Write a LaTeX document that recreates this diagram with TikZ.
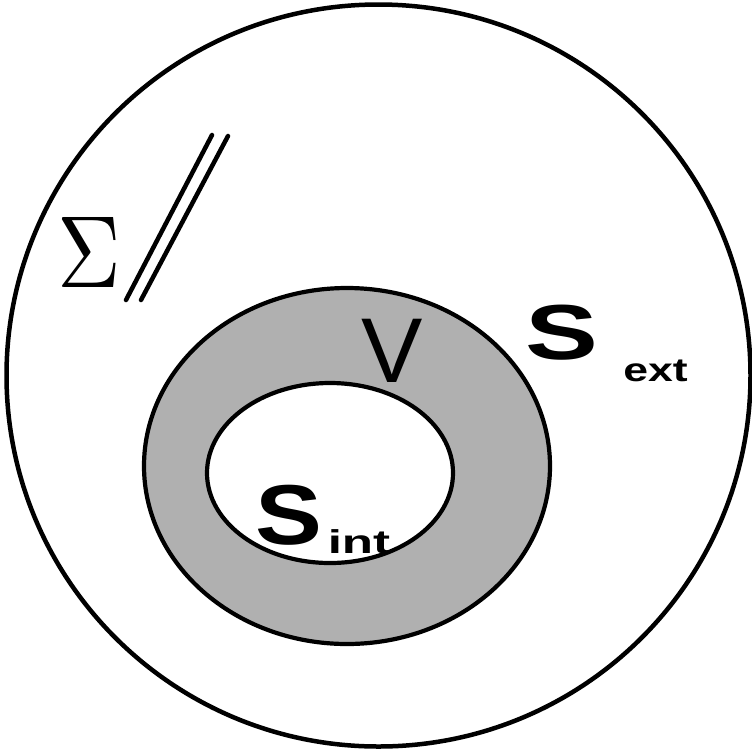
\documentclass[tikz,border=0pt]{standalone}
\usepackage{fontspec}
\newfontfamily\lsans{Liberation Sans}
\begin{document}
\begin{tikzpicture}[x=1pt,y=-1pt,
  rim/.style={draw=black,line width=4.5pt},
  ring/.style={draw=black,line width=4.2pt},
  slash/.style={draw=black,line width=4.5pt,line cap=round},
  lbl/.style={inner sep=0pt,outer sep=0pt,anchor=base,text=black}]
\useasboundingbox (0,0) rectangle (752,748);
% outer circle Sigma
\draw[rim] (378.5,375.5) ellipse [x radius=372,y radius=371];
% shaded volume V
\draw[ring,fill=black!31] (347,466) ellipse [x radius=203,y radius=178];
% inner surface
\draw[ring,fill=white] (330,473) ellipse [x radius=123,y radius=90];
% double slash
\coordinate (a1) at (212,135);
\coordinate (b1) at (126,300);
\coordinate (a2) at (228,136);
\coordinate (b2) at (141,300);
\draw[slash] (a1) -- (b1);
\draw[slash] (a2) -- (b2);
% labels
\node[lbl] (sigma) at (89,287) {\scalebox{8.8}[10.25]{$\Sigma$}};
\node[lbl] (V) at (392,382) {\fontsize{92}{92}\selectfont\lsans V};
\node[lbl] (Sext) at (561.5,359) {\scalebox{1.4}[1]{\fontsize{78}{78}\selectfont\lsans\bfseries S}};
\node[lbl] (ext) at (655.5,381) {\scalebox{1.35}[1]{\fontsize{33}{33}\selectfont\lsans\bfseries ext}};
\node[lbl] (Sint) at (289,544) {\scalebox{1.18}[1]{\fontsize{85}{85}\selectfont\lsans\bfseries S}};
\node[lbl] (int) at (359,553) {\scalebox{1.55}[1]{\fontsize{33}{33}\selectfont\lsans\bfseries int}};
\end{tikzpicture}
\end{document}
